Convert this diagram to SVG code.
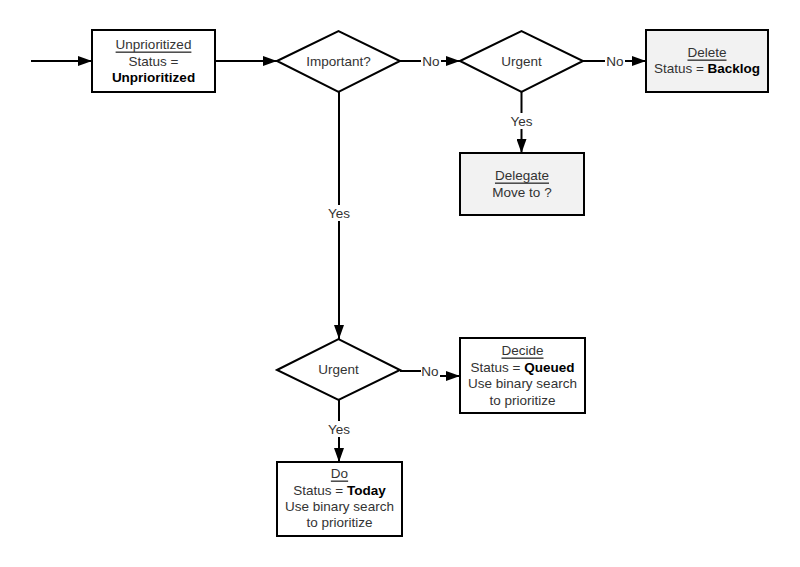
<svg xmlns="http://www.w3.org/2000/svg" width="800" height="567" viewBox="0 0 800 567">
<defs>
<style>
text{font-family:"Liberation Sans",Arial,sans-serif;font-size:13.5px;fill:#333;text-anchor:middle;dominant-baseline:central}
.b{font-weight:bold;fill:#000}
.u{text-decoration:underline}
.box{fill:#fff;stroke:#000;stroke-width:2}
.grey{fill:#f2f2f2}
.edge{fill:none;stroke:#000;stroke-width:2}
.lbl{fill:#fff}
</style>
<marker id="ah" markerWidth="14" markerHeight="10" refX="14" refY="5" orient="auto" markerUnits="userSpaceOnUse">
<path d="M0,0 L14,5 L0,10 Z" fill="#000"/>
</marker>
</defs>
<rect width="800" height="567" fill="#fff"/>
<g id="connectors">
<path class="edge" d="M31,61 H92" marker-end="url(#ah)"/>
<path class="edge" d="M215,61 H277" marker-end="url(#ah)"/>
<path class="edge" d="M400,61 H460" marker-end="url(#ah)"/>
<path class="edge" d="M583,61 H646" marker-end="url(#ah)"/>
<path class="edge" d="M521.5,92 V153" marker-end="url(#ah)"/>
<path class="edge" d="M339,92 V339" marker-end="url(#ah)"/>
<path class="edge" d="M400,371 H438 V376 H460" marker-end="url(#ah)"/>
<path class="edge" d="M339,400 V462" marker-end="url(#ah)"/>
<rect class="lbl" x="421" y="53" width="20" height="16"/>
<text x="431" y="61">No</text>
<rect class="lbl" x="605" y="53" width="20" height="16"/>
<text x="615" y="61">No</text>
<rect class="lbl" x="509" y="113" width="25" height="16"/>
<text x="521.5" y="121">Yes</text>
<rect class="lbl" x="326" y="205" width="26" height="16"/>
<text x="339" y="213">Yes</text>
<rect class="lbl" x="421" y="363" width="19" height="14"/>
<text x="430" y="371">No</text>
<rect class="lbl" x="326" y="421" width="26" height="16"/>
<text x="339" y="429">Yes</text>
</g>
<g id="unprioritized">
<rect class="box" x="92" y="30" width="123" height="62"/>
<text x="153.5" y="44" class="u">Unprioritized</text>
<text x="153.5" y="61">Status =</text>
<text x="153.5" y="77" class="b">Unprioritized</text>
</g>
<g id="important">
<polygon class="box" points="277,61 338.5,31 400,61 338.5,92"/>
<text x="338.5" y="61">Important?</text>
</g>
<g id="urgent1">
<polygon class="box" points="460,61 521.5,31 583,61 521.5,92"/>
<text x="521.5" y="61">Urgent</text>
</g>
<g id="delete">
<rect class="box grey" x="646" y="30" width="122" height="62"/>
<text x="707" y="52" class="u">Delete</text>
<text x="707" y="68">Status = <tspan class="b">Backlog</tspan></text>
</g>
<g id="delegate">
<rect class="box grey" x="460" y="153" width="124" height="62"/>
<text x="522" y="175" class="u">Delegate</text>
<text x="522" y="192">Move to ?</text>
</g>
<g id="urgent2">
<polygon class="box" points="277,370 338.5,339 400,370 338.5,400"/>
<text x="338.5" y="369">Urgent</text>
</g>
<g id="decide">
<rect class="box" x="460" y="338" width="125" height="75"/>
<text x="522.5" y="350" class="u">Decide</text>
<text x="522.5" y="367">Status = <tspan class="b">Queued</tspan></text>
<text x="522.5" y="383">Use binary search</text>
<text x="522.5" y="400">to prioritize</text>
</g>
<g id="do">
<rect class="box" x="277" y="462" width="125" height="74"/>
<text x="339.5" y="473" class="u">Do</text>
<text x="339.5" y="490">Status = <tspan class="b">Today</tspan></text>
<text x="339.5" y="506">Use binary search</text>
<text x="339.5" y="522">to prioritize</text>
</g>
</svg>
